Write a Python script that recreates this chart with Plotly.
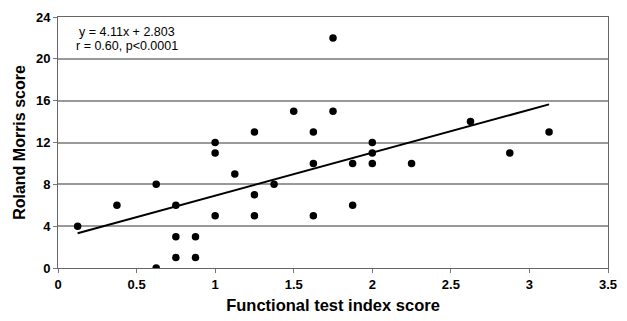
import plotly.graph_objects as go

fti = [0.125, 0.375, 0.625, 0.625, 0.75, 0.75, 0.75, 0.875, 0.875, 1.0, 1.0, 1.0,
       1.125, 1.25, 1.25, 1.25, 1.375, 1.5, 1.625, 1.625, 1.625, 1.75, 1.75,
       1.875, 1.875, 2.0, 2.0, 2.0, 2.25, 2.625, 2.875, 3.125]
rm = [4, 6, 8, 0, 6, 3, 1, 3, 1, 12, 11, 5,
      9, 13, 7, 5, 8, 15, 13, 10, 5, 22, 15,
      10, 6, 12, 11, 10, 10, 14, 11, 13]

slope = 4.11
intercept = 2.803
fit_x = [min(fti), max(fti)]
fit_y = [slope * v + intercept for v in fit_x]

x_ticks = [0, 0.5, 1, 1.5, 2, 2.5, 3, 3.5]
x_labels = ["0", "0.5", "1", "1.5", "2", "2.5", "3", "3.5"]
y_ticks = [0, 4, 8, 12, 16, 20, 24]

eq_text = "y = 4.11x + 2.803"
stat_text = "r = 0.60, p<0.0001"

font_family = "Liberation Sans, Arial, sans-serif"

fig = go.Figure()
fig.add_trace(go.Scatter(x=fit_x, y=fit_y, mode="lines",
                         line=dict(color="black", width=2), hoverinfo="skip"))
fig.add_trace(go.Scatter(x=fti, y=rm, mode="markers",
                         marker=dict(color="black", size=7.5)))

fig.add_annotation(x=0, y=0.9416, xref="paper", yref="paper", xanchor="left", yanchor="middle",
                   xshift=19, showarrow=False, text=eq_text,
                   font=dict(family=font_family, size=12.5, color="black"))
fig.add_annotation(x=0, y=0.8833, xref="paper", yref="paper", xanchor="left", yanchor="middle",
                   xshift=16, showarrow=False, text=stat_text,
                   font=dict(family=font_family, size=12.5, color="black"))

fig.update_layout(
    width=627, height=321,
    margin=dict(l=58, r=10, t=14, b=50),
    plot_bgcolor="white", paper_bgcolor="white",
    showlegend=False,
    font=dict(family=font_family, color="black"),
    xaxis=dict(range=[0, 3.5], tickvals=x_ticks, ticktext=x_labels,
               showgrid=False, zeroline=False, showline=True, linecolor="#666",
               mirror=True, ticks="outside", ticklen=4, tickcolor="#777",
               tickfont=dict(size=13, weight="bold"),
               title=dict(text="Functional test index score",
                          font=dict(size=16.5, weight="bold"), standoff=8)),
    yaxis=dict(range=[0, 24], tickvals=y_ticks,
               showgrid=True, gridcolor="#999", gridwidth=1.5, zeroline=False,
               showline=True, linecolor="#666", mirror=True,
               ticks="outside", ticklen=4, tickcolor="#777",
               tickfont=dict(size=13, weight="bold"),
               title=dict(text="Roland Morris score",
                          font=dict(size=16, weight="bold"), standoff=6)),
)

fig.write_html(
    "out.html",
    config={"displayModeBar": False},
    post_script=(
        "document.documentElement.style.margin='0';"
        "document.documentElement.style.overflow='hidden';"
        "document.body.style.margin='0';"
        "document.body.style.overflow='hidden';"
    ),
)
